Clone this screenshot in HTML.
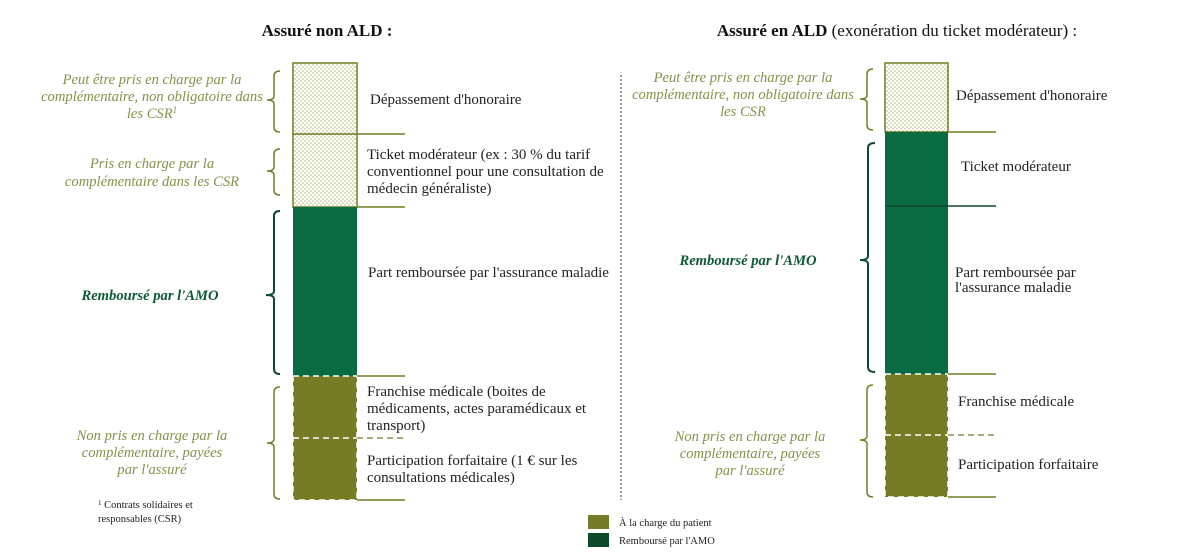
<!DOCTYPE html>
<html><head><meta charset="utf-8"><style>
html,body{margin:0;padding:0;background:#fff;}
svg{display:block;font-family:"Liberation Serif",serif;}
.t{font-size:15px;fill:#222;}
.i{font-size:14.6px;fill:#8a8f4a;font-style:italic;}
.g{font-size:14.6px;fill:#0d5a36;font-style:italic;font-weight:bold;}
</style></head><body>
<svg width="1183" height="559" viewBox="0 0 1183 559" xmlns="http://www.w3.org/2000/svg">
<defs>
<pattern id="dots" width="4" height="4" patternUnits="userSpaceOnUse">
<rect width="4" height="4" fill="#fff"/>
<circle cx="1" cy="1" r="0.7" fill="#a5aa5a"/>
<circle cx="3" cy="3" r="0.7" fill="#a5aa5a"/>
</pattern>
</defs>
<text x="327" y="36" text-anchor="middle" style="font-size:17px;font-weight:bold;fill:#111">Assuré non ALD :</text>
<text x="897" y="36" text-anchor="middle" style="font-size:17px;fill:#111"><tspan font-weight="bold">Assuré en ALD</tspan> (exonération du ticket modérateur) :</text>

<!-- left bar -->
<rect x="293" y="63" width="64" height="144" fill="url(#dots)" stroke="#767b25" stroke-width="1.5"/>
<rect x="293" y="207" width="64" height="169" fill="#086b42"/>
<rect x="293" y="376" width="64" height="124" fill="#767b25" stroke="#fff" stroke-width="1.5" stroke-dasharray="6,4"/>
<line x1="293" y1="134" x2="405" y2="134" stroke="#767b25" stroke-width="1.5"/>
<line x1="357" y1="207" x2="405" y2="207" stroke="#767b25" stroke-width="1.5"/>
<line x1="357" y1="376" x2="405" y2="376" stroke="#767b25" stroke-width="1.5"/>
<line x1="293" y1="438" x2="357" y2="438" stroke="#fff" stroke-width="1.5" stroke-dasharray="6,4"/>
<line x1="357" y1="438" x2="405" y2="438" stroke="#8a8f4a" stroke-width="1.5" stroke-dasharray="6,4"/>
<line x1="357" y1="500" x2="405" y2="500" stroke="#767b25" stroke-width="1.5"/>

<!-- right bar -->
<rect x="885" y="63" width="63" height="69" fill="url(#dots)" stroke="#767b25" stroke-width="1.5"/>
<rect x="885" y="132" width="63" height="242" fill="#086b42"/>
<rect x="885" y="374" width="63" height="123" fill="#767b25" stroke="#fff" stroke-width="1.5" stroke-dasharray="6,4"/>
<line x1="948" y1="132" x2="996" y2="132" stroke="#767b25" stroke-width="1.5"/>
<line x1="885" y1="206" x2="996" y2="206" stroke="#0d4a2c" stroke-width="1.5"/>
<line x1="948" y1="374" x2="996" y2="374" stroke="#767b25" stroke-width="1.5"/>
<line x1="885" y1="435" x2="948" y2="435" stroke="#fff" stroke-width="1.5" stroke-dasharray="6,4"/>
<line x1="948" y1="435" x2="996" y2="435" stroke="#8a8f4a" stroke-width="1.5" stroke-dasharray="6,4"/>
<line x1="948" y1="497" x2="996" y2="497" stroke="#767b25" stroke-width="1.5"/>

<!-- divider -->
<line x1="621" y1="75" x2="621" y2="500" stroke="#333" stroke-width="1" stroke-dasharray="2,2"/>

<!-- braces -->
<g fill="none" stroke="#767b25" stroke-width="1.5">
<path d="M280 71 Q274 71 274 76 L274 96 Q274 100 267 100 Q274 100 274 104 L274 127 Q274 132 280 132"/>
<path d="M280 149 Q274 149 274 154 L274 167 Q274 171 267 171 Q274 171 274 175 L274 190 Q274 195 280 195"/>
<path d="M280 387 Q274 387 274 392 L274 439 Q274 443 267 443 Q274 443 274 447 L274 494 Q274 499 280 499"/>
<path d="M873 69 Q867 69 867 74 L867 95 Q867 99 860 99 Q867 99 867 103 L867 125 Q867 130 873 130"/>
<path d="M873 385 Q867 385 867 390 L867 436 Q867 440 860 440 Q867 440 867 444 L867 492 Q867 497 873 497"/>
</g>
<g fill="none" stroke="#0d4a2c" stroke-width="2">
<path d="M280 211 Q274 211 274 216 L274 291 Q274 295 266 295 Q274 295 274 299 L274 369 Q274 374 280 374"/>
<path d="M875 143 Q868 143 868 148 L868 256 Q868 260 860 260 Q868 260 868 264 L868 367 Q868 372 875 372"/>
</g>

<!-- left labels -->
<text class="i" text-anchor="middle"><tspan x="152" y="84">Peut être pris en charge par la</tspan><tspan x="152" y="101">complémentaire, non obligatoire dans</tspan><tspan x="152" y="118">les CSR<tspan font-size="9" dy="-5">1</tspan></tspan></text>
<text class="i" text-anchor="middle"><tspan x="152" y="168">Pris en charge par la</tspan><tspan x="152" y="186">complémentaire dans les CSR</tspan></text>
<text class="g" text-anchor="middle" x="150" y="300">Remboursé par l'AMO</text>
<text class="i" text-anchor="middle"><tspan x="152" y="440">Non pris en charge par la</tspan><tspan x="152" y="457">complémentaire, payées</tspan><tspan x="152" y="474">par l'assuré</tspan></text>
<text style="font-size:10.5px;fill:#222"><tspan x="98" y="508"><tspan font-size="7" dy="-3">1</tspan><tspan dy="3"> Contrats solidaires et</tspan></tspan><tspan x="98" y="522">responsables (CSR)</tspan></text>

<!-- left descriptions -->
<text class="t" x="370" y="104">Dépassement d'honoraire</text>
<text class="t"><tspan x="367" y="159">Ticket modérateur (ex : 30 % du tarif</tspan><tspan x="367" y="176">conventionnel pour une consultation de</tspan><tspan x="367" y="193">médecin généraliste)</tspan></text>
<text class="t" x="368" y="277">Part remboursée par l'assurance maladie</text>
<text class="t"><tspan x="367" y="396">Franchise médicale (boites de</tspan><tspan x="367" y="413">médicaments, actes paramédicaux et</tspan><tspan x="367" y="430">transport)</tspan></text>
<text class="t"><tspan x="367" y="465">Participation forfaitaire (1 € sur les</tspan><tspan x="367" y="482">consultations médicales)</tspan></text>

<!-- right labels -->
<text class="i" text-anchor="middle"><tspan x="743" y="82">Peut être pris en charge par la</tspan><tspan x="743" y="99">complémentaire, non obligatoire dans</tspan><tspan x="743" y="116">les CSR</tspan></text>
<text class="g" text-anchor="middle" x="748" y="265">Remboursé par l'AMO</text>
<text class="i" text-anchor="middle"><tspan x="750" y="441">Non pris en charge par la</tspan><tspan x="750" y="458">complémentaire, payées</tspan><tspan x="750" y="475">par l'assuré</tspan></text>

<!-- right descriptions -->
<text class="t" x="956" y="100">Dépassement d'honoraire</text>
<text class="t" x="961" y="171">Ticket modérateur</text>
<text class="t"><tspan x="955" y="277">Part remboursée par</tspan><tspan x="955" y="292">l'assurance maladie</tspan></text>
<text class="t" x="958" y="406">Franchise médicale</text>
<text class="t" x="958" y="469">Participation forfaitaire</text>

<!-- legend -->
<rect x="588" y="515" width="21" height="14" fill="#767b25"/>
<rect x="588" y="533" width="21" height="14" fill="#0d4a2c"/>
<text style="font-size:10.5px;fill:#222" x="619" y="526">À la charge du patient</text>
<text style="font-size:10.5px;fill:#222" x="619" y="544">Remboursé par l'AMO</text>
</svg>
</body></html>
